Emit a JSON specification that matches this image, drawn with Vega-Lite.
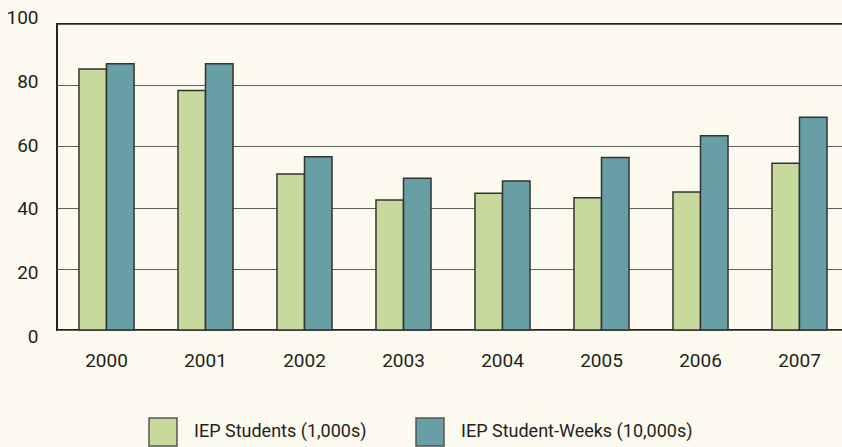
{
  "$schema": "https://vega.github.io/schema/vega-lite/v6.json",
  "width": 792,
  "height": 306,
  "autosize": "none",
  "padding": {"left": 57, "top": 24, "right": 0, "bottom": 117},
  "background": "#fcf9ee",
  "config": {
    "view": {"stroke": "#222222", "strokeWidth": 2, "fill": "#fcf9ee"},
    "font": "Roboto, sans-serif"
  },
  "data": {
    "values": [
      {"year": "2000", "series": "IEP Students (1,000s)", "value": 85.3},
      {"year": "2000", "series": "IEP Student-Weeks (10,000s)", "value": 87.0},
      {"year": "2001", "series": "IEP Students (1,000s)", "value": 78.3},
      {"year": "2001", "series": "IEP Student-Weeks (10,000s)", "value": 87.0},
      {"year": "2002", "series": "IEP Students (1,000s)", "value": 51.0},
      {"year": "2002", "series": "IEP Student-Weeks (10,000s)", "value": 56.6},
      {"year": "2003", "series": "IEP Students (1,000s)", "value": 42.5},
      {"year": "2003", "series": "IEP Student-Weeks (10,000s)", "value": 49.6},
      {"year": "2004", "series": "IEP Students (1,000s)", "value": 44.7},
      {"year": "2004", "series": "IEP Student-Weeks (10,000s)", "value": 48.7},
      {"year": "2005", "series": "IEP Students (1,000s)", "value": 43.2},
      {"year": "2005", "series": "IEP Student-Weeks (10,000s)", "value": 56.4},
      {"year": "2006", "series": "IEP Students (1,000s)", "value": 45.1},
      {"year": "2006", "series": "IEP Student-Weeks (10,000s)", "value": 63.5},
      {"year": "2007", "series": "IEP Students (1,000s)", "value": 54.5},
      {"year": "2007", "series": "IEP Student-Weeks (10,000s)", "value": 69.5}
    ]
  },
  "mark": {"type": "bar", "stroke": "#333333", "strokeWidth": 1.5},
  "encoding": {
    "x": {
      "field": "year",
      "type": "nominal",
      "scale": {"paddingInner": 0.444, "paddingOuter": 0.222},
      "axis": {
        "title": null,
        "labelAngle": 0,
        "domain": false,
        "ticks": false,
        "labelPadding": 21,
        "labelFontSize": 19,
        "labelColor": "#231f20"
      }
    },
    "xOffset": {
      "field": "series",
      "type": "nominal",
      "sort": ["IEP Students (1,000s)", "IEP Student-Weeks (10,000s)"]
    },
    "y": {
      "field": "value",
      "type": "quantitative",
      "scale": {"domain": [0, 100], "nice": false},
      "axis": {
        "title": null,
        "values": [0, 20, 40, 60, 80, 100],
        "domain": false,
        "ticks": false,
        "grid": true,
        "gridColor": "#606060",
        "gridWidth": 1.2,
        "labelPadding": 19,
        "labelFontSize": 19,
        "labelColor": "#231f20",
        "labelOffset": {"expr": "(50 - datum.value) * 0.13"}
      }
    },
    "color": {
      "field": "series",
      "type": "nominal",
      "scale": {
        "domain": ["IEP Students (1,000s)", "IEP Student-Weeks (10,000s)"],
        "range": ["#c8d99d", "#689fa4"]
      },
      "legend": {
        "title": null,
        "orient": "none",
        "direction": "horizontal",
        "legendX": 91,
        "legendY": 393,
        "symbolType": "square",
        "symbolSize": 784,
        "symbolStrokeColor": "#555555",
        "symbolStrokeWidth": 1.5,
        "labelFontSize": 18,
        "labelLimit": 0,
        "labelColor": "#231f20",
        "labelOffset": 16,
        "columnPadding": 46
      }
    }
  }
}
